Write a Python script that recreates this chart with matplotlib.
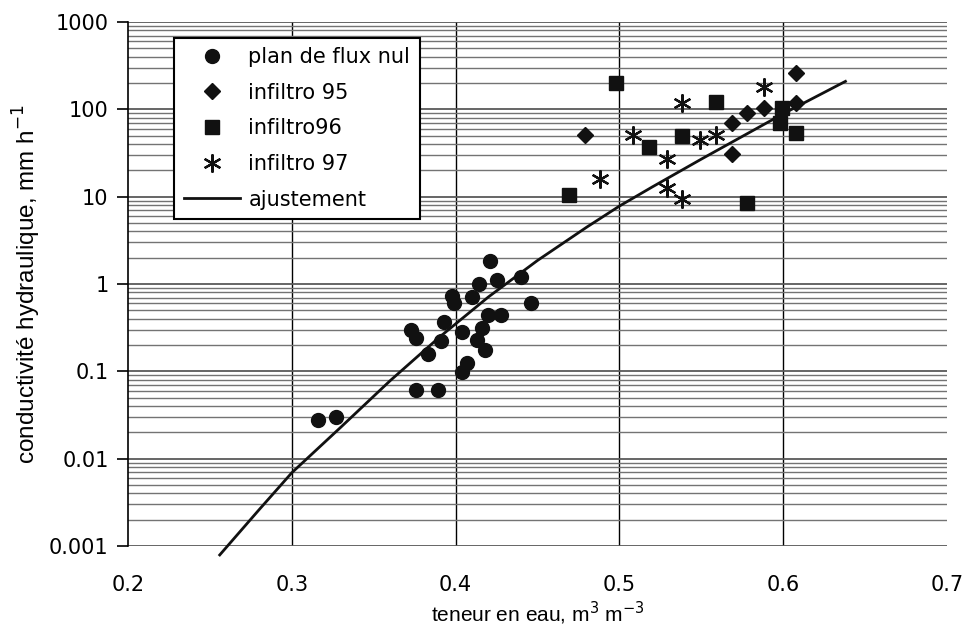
import matplotlib
matplotlib.use("Agg")
import matplotlib.pyplot as plt
import numpy as np
from matplotlib.ticker import FixedLocator, LogLocator, NullFormatter, FixedFormatter

plt.rcParams['font.family'] = ['Liberation Sans', 'DejaVu Sans']

# --- data ---
flux_x = [0.421, 0.414, 0.425, 0.440, 0.398, 0.399, 0.410, 0.446, 0.420, 0.428,
          0.393, 0.373, 0.376, 0.404, 0.416, 0.391, 0.413, 0.418, 0.383, 0.407,
          0.404, 0.376, 0.389, 0.316, 0.327]
flux_y = [1.85, 1.0, 1.1, 1.2, 0.73, 0.6, 0.71, 0.6, 0.44, 0.44,
          0.37, 0.30, 0.24, 0.28, 0.31, 0.22, 0.23, 0.175, 0.16, 0.124,
          0.097, 0.061, 0.061, 0.0275, 0.030]

inf95_x = [0.479, 0.569, 0.569, 0.578, 0.588, 0.608, 0.608]
inf95_y = [51, 70, 31, 91, 103, 117, 260]

inf96_x = [0.498, 0.518, 0.538, 0.469, 0.559, 0.578, 0.599, 0.598, 0.608]
inf96_y = [200, 37, 49, 10.4, 120, 8.4, 103, 70, 54]

inf97_x = [0.508, 0.529, 0.538, 0.488, 0.529, 0.538, 0.549, 0.559, 0.588]
inf97_y = [51, 27, 117, 16, 12.6, 9.3, 44, 51, 180]

fit_x = [0.256, 0.280, 0.300, 0.330, 0.360, 0.390, 0.420, 0.450, 0.480,
         0.500, 0.520, 0.550, 0.600, 0.638]
fit_y = [0.00079, 0.0026, 0.0069, 0.023, 0.078, 0.245, 0.71, 1.86, 4.47,
         7.8, 12.9, 26.9, 89, 209]

x_ticks = [0.2, 0.3, 0.4, 0.5, 0.6, 0.7]
x_ticklabels = ["0.2", "0.3", "0.4", "0.5", "0.6", "0.7"]
y_ticks = [0.001, 0.01, 0.1, 1, 10, 100, 1000]
y_ticklabels = ["0.001", "0.01", "0.1", "1", "10", "100", "1000"]

fig = plt.figure(figsize=(9.67, 6.32), dpi=100)
ax = fig.add_axes([128/967, 1-546/632, (947-128)/967, (546-22)/632])
ax.set_yscale('log')
ax.set_xlim(0.2, 0.7)
ax.set_ylim(0.001, 1000)

# grid
ax.yaxis.set_minor_locator(LogLocator(base=10, subs=np.arange(2, 10)))
ax.yaxis.set_minor_formatter(NullFormatter())
ax.grid(True, which='minor', axis='y', color='0.45', lw=1.0)
ax.grid(True, which='major', axis='y', color='0.35', lw=1.3)
for xv in x_ticks[1:-1]:
    ax.axvline(xv, color='black', lw=1.0, zorder=1)

ax.plot(flux_x, flux_y, linestyle='none', marker='o', ms=10, color='#111111',
        label='plan de flux nul', zorder=3)
ax.plot(inf95_x, inf95_y, linestyle='none', marker='D', ms=8, color='#111111',
        label='infiltro 95', zorder=3)
ax.plot(inf96_x, inf96_y, linestyle='none', marker='s', ms=10, color='#111111',
        label='infiltro96', zorder=3)
ax.plot(inf97_x, inf97_y, linestyle='none', marker=(6, 2, 0), ms=13, mew=1.6,
        color='#111111', label='infiltro 97', zorder=3)
ax.plot(fit_x, fit_y, color='#111111', lw=2.0, label='ajustement', zorder=2,
        clip_on=False)

ax.xaxis.set_major_locator(FixedLocator(x_ticks))
ax.xaxis.set_major_formatter(FixedFormatter(x_ticklabels))
ax.yaxis.set_major_locator(FixedLocator(y_ticks))
ax.yaxis.set_major_formatter(FixedFormatter(y_ticklabels))
ax.tick_params(axis='y', which='major', direction='out', length=8, width=1.2,
               labelsize=15, pad=6)
ax.tick_params(axis='y', which='minor', length=0)
ax.tick_params(axis='x', which='major', length=0, labelsize=15, pad=21)
for lab in ax.get_xticklabels() + ax.get_yticklabels():
    lab.set_family('DejaVu Sans')

for s in ['top', 'right', 'bottom']:
    ax.spines[s].set_visible(False)
ax.spines['left'].set_linewidth(1.2)

ax.set_xlabel('teneur en eau, m$^3$ m$^{-3}$', fontsize=15, labelpad=3)
ax.set_ylabel('conductivité hydraulique, mm h$^{-1}$', fontsize=17.5, labelpad=4)

leg = ax.legend(loc='upper left', bbox_to_anchor=(0.049, 0.982),
                prop={'family': 'DejaVu Sans', 'size': 15},
                frameon=True, fancybox=False, edgecolor='black', framealpha=1,
                handlelength=2.7, labelspacing=0.75, borderpad=0.45,
                handletextpad=0.4, borderaxespad=0.3)
leg.get_frame().set_linewidth(1.5)

fig.savefig('out.png', dpi=100)
